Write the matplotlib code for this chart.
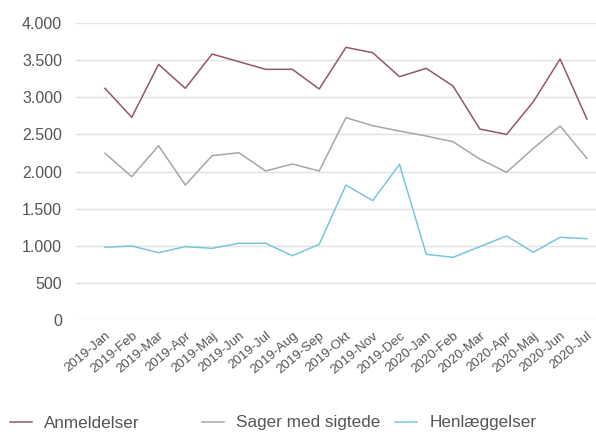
import numpy as np
import matplotlib as mpl
import matplotlib.pyplot as plt
from matplotlib.ticker import FuncFormatter

mpl.rcParams['font.family'] = ['Liberation Sans', 'DejaVu Sans']

months = ['2019-Jan', '2019-Feb', '2019-Mar', '2019-Apr', '2019-Maj', '2019-Jun',
          '2019-Jul', '2019-Aug', '2019-Sep', '2019-Okt', '2019-Nov', '2019-Dec',
          '2020-Jan', '2020-Feb', '2020-Mar', '2020-Apr', '2020-Maj', '2020-Jun',
          '2020-Jul']

anmeldelser = [3120, 2730, 3443, 3120, 3582, 3479, 3376, 3376, 3111, 3672,
               3600, 3277, 3389, 3151, 2572, 2500, 2940, 3515, 2707]
sager = [2245, 1930, 2347, 1818, 2213, 2253, 2007, 2101, 2007, 2725,
         2617, 2545, 2478, 2401, 2168, 1989, 2312, 2613, 2177]
henlaeggelser = [979, 997, 907, 988, 965, 1033, 1033, 866, 1019, 1818,
                 1607, 2097, 885, 844, 988, 1131, 912, 1114, 1095]

series = [('Anmeldelser', anmeldelser, '#94566b'),
          ('Sager med sigtede', sager, '#a6a6a6'),
          ('Henlæggelser', henlaeggelser, '#78c6dc')]

txt = '#555555'

fig = plt.figure(figsize=(5.96, 4.32), dpi=100)
ax = fig.add_axes([76/596, 1-320/432, 1-76/596, 297/432])

x = np.arange(len(months))
lines = []
for name, vals, col in series:
    l, = ax.plot(x, vals, color=col, linewidth=1.1, label=name)
    lines.append(l)

ax.set_ylim(0, 4000)
ax.set_xlim(-1.083, 18.34)
ax.set_yticks(np.arange(0, 4001, 500))
ax.yaxis.set_major_formatter(FuncFormatter(lambda v, p: '{:,.0f}'.format(v).replace(',', '.')))
ax.set_xticks(x)
ax.set_xticklabels(months, rotation=40, ha='right', rotation_mode='anchor')
ax.grid(axis='y', color='#e2e2e2', linewidth=1)
ax.set_axisbelow(True)
for s in ax.spines.values():
    s.set_visible(False)
ax.tick_params(axis='both', length=0, colors=txt)
ax.tick_params(axis='y', pad=10, labelsize=11.5)
ax.tick_params(axis='x', pad=7, labelsize=9.5)

# legend entries placed one by one to match the uneven spacing
xs = [10, 202, 395]
for l, px in zip(lines, xs):
    fig.legend(handles=[l], loc='center left', bbox_to_anchor=(px/596, 1-423/432),
               frameon=False, fontsize=12.3, handlelength=1.3, handletextpad=0.7,
               borderaxespad=0, borderpad=0, labelcolor=txt)

fig.savefig('out.png', dpi=100)
